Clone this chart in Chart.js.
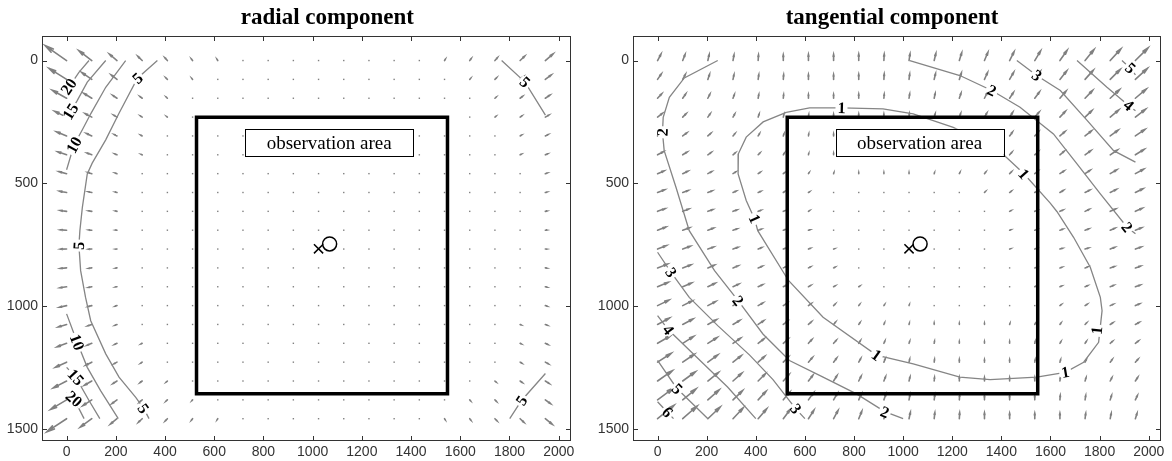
<!DOCTYPE html>
<html>
<head>
<meta charset="utf-8">
<script src="https://cdn.jsdelivr.net/npm/chart.js@4.4.1/dist/chart.umd.min.js"></script>
<style>
  html, body { margin: 0; padding: 0; background: #fff; }
  body { width: 1172px; height: 461px; position: relative; overflow: hidden; }
  canvas { position: absolute; top: 0; }
  #radial { left: 0; }
  #tangential { left: 591px; }
</style>
</head>
<body>
<canvas id="radial" width="586" height="461"></canvas>
<canvas id="tangential" width="585" height="461"></canvas>
<script>
"use strict";

// sampling grid of the field (sensor pixels)
const gridX = [0, 102.4, 204.8, 307.2, 409.6, 512, 614.4, 716.8, 819.2, 921.6, 1024, 1126.4, 1228.8, 1331.2, 1433.6, 1536, 1638.4, 1740.8, 1843.2, 1945.6];
const gridY = [0, 76.8, 153.6, 230.4, 307.2, 384, 460.8, 537.6, 614.4, 691.2, 768, 844.8, 921.6, 998.4, 1075.2, 1152, 1228.8, 1305.6, 1382.4, 1459.2];

const xTicks = [0, 200, 400, 600, 800, 1000, 1200, 1400, 1600, 1800, 2000];
const yTicks = [0, 500, 1000, 1500];

// radial displacement per node [px], one row per gridY entry
const radialU = [
  [-24.2, -14.6, -8.6, -4.9, -2.8, -1.5, -0.9, -0.5, -0.2, -0.1, 0, 0, 0.1, 0.3, 0.5, 0.9, 1.6, 2.8, 5.1, 8.9],
  [-19.8, -11.6, -6.5, -3.6, -1.9, -1.0, -0.5, -0.3, -0.1, 0, 0, 0, 0, 0.1, 0.3, 0.5, 1.1, 2.0, 3.7, 6.8],
  [-16.2, -9.2, -5.0, -2.6, -1.3, -0.6, -0.3, -0.1, 0, 0, 0, 0, 0, 0, 0.2, 0.3, 0.7, 1.4, 2.7, 5.2],
  [-13.5, -7.4, -3.9, -2.0, -0.9, -0.4, -0.2, 0, 0, 0, 0, 0, 0, 0, 0, 0.2, 0.4, 1.0, 2.0, 4.1],
  [-11.5, -6.1, -3.1, -1.5, -0.7, -0.3, 0, 0, 0, 0, 0, 0, 0, 0, 0, 0, 0.3, 0.7, 1.6, 3.2],
  [-9.9, -5.2, -2.5, -1.1, -0.5, -0.2, 0, 0, 0, 0, 0, 0, 0, 0, 0, 0, 0, 0.5, 1.2, 2.6],
  [-8.7, -4.4, -2.1, -0.9, -0.4, 0, 0, 0, 0, 0, 0, 0, 0, 0, 0, 0, 0, 0.4, 0.9, 2.2],
  [-7.9, -3.9, -1.8, -0.7, -0.3, 0, 0, 0, 0, 0, 0, 0, 0, 0, 0, 0, 0, 0.3, 0.8, 1.9],
  [-7.3, -3.6, -1.6, -0.7, -0.2, 0, 0, 0, 0, 0, 0, 0, 0, 0, 0, 0, 0, 0.3, 0.7, 1.7],
  [-7.1, -3.4, -1.5, -0.6, -0.2, 0, 0, 0, 0, 0, 0, 0, 0, 0, 0, 0, 0, 0.2, 0.7, 1.6],
  [-7.0, -3.4, -1.5, -0.6, -0.2, 0, 0, 0, 0, 0, 0, 0, 0, 0, 0, 0, 0, 0.2, 0.7, 1.6],
  [-7.2, -3.5, -1.6, -0.6, -0.2, 0, 0, 0, 0, 0, 0, 0, 0, 0, 0, 0, 0, 0.2, 0.7, 1.7],
  [-7.6, -3.7, -1.7, -0.7, -0.3, 0, 0, 0, 0, 0, 0, 0, 0, 0, 0, 0, 0, 0.3, 0.7, 1.8],
  [-8.2, -4.1, -1.9, -0.8, -0.3, 0, 0, 0, 0, 0, 0, 0, 0, 0, 0, 0, 0, 0.3, 0.9, 2.0],
  [-9.4, -4.7, -2.3, -1.0, -0.4, 0, 0, 0, 0, 0, 0, 0, 0, 0, 0, 0, 0, 0.5, 1.1, 2.4],
  [-10.7, -5.6, -2.8, -1.3, -0.6, -0.2, 0, 0, 0, 0, 0, 0, 0, 0, 0, 0, 0.2, 0.6, 1.4, 2.9],
  [-12.6, -6.8, -3.5, -1.7, -0.8, -0.4, -0.2, 0, 0, 0, 0, 0, 0, 0, 0, 0, 0.4, 0.8, 1.8, 3.6],
  [-15.0, -8.4, -4.5, -2.3, -1.2, -0.5, -0.3, 0, 0, 0, 0, 0, 0, 0, 0, 0.3, 0.6, 1.2, 2.4, 4.6],
  [-18.1, -10.5, -5.8, -3.1, -1.7, -0.8, -0.4, -0.2, -0.1, 0, 0, 0, 0, 0, 0.2, 0.4, 0.9, 1.7, 3.2, 6.0],
  [-22.2, -13.1, -7.6, -4.2, -2.4, -1.3, -0.7, -0.4, -0.2, -0.1, 0, 0, 0.1, 0.2, 0.4, 0.7, 1.3, 2.5, 4.4, 7.9],
];
const radialV = [
  [-16.9, -11.2, -7.4, -4.8, -3.1, -2.0, -1.4, -1.0, -0.7, -0.6, -0.5, -0.5, -0.6, -0.7, -1.0, -1.4, -2.1, -3.2, -4.9, -7.6],
  [-12.4, -8.0, -5.0, -3.2, -1.9, -1.2, -0.8, -0.5, -0.4, 0, 0, 0, 0, -0.4, -0.5, -0.8, -1.3, -2.0, -3.2, -5.2],
  [-9.0, -5.6, -3.4, -2.0, -1.2, -0.7, -0.4, -0.2, 0, 0, 0, 0, 0, 0, -0.2, -0.4, -0.7, -1.2, -2.1, -3.5],
  [-6.5, -3.9, -2.3, -1.3, -0.7, -0.4, -0.2, 0, 0, 0, 0, 0, 0, 0, 0, -0.2, -0.4, -0.8, -1.4, -2.4],
  [-4.7, -2.8, -1.6, -0.8, -0.4, -0.2, 0, 0, 0, 0, 0, 0, 0, 0, 0, 0, -0.2, -0.5, -0.9, -1.6],
  [-3.4, -1.9, -1.0, -0.5, -0.3, -0.1, 0, 0, 0, 0, 0, 0, 0, 0, 0, 0, 0, -0.3, -0.6, -1.1],
  [-2.3, -1.3, -0.7, -0.3, -0.2, 0, 0, 0, 0, 0, 0, 0, 0, 0, 0, 0, 0, -0.2, -0.3, -0.7],
  [-1.5, -0.8, -0.4, -0.2, -0.1, 0, 0, 0, 0, 0, 0, 0, 0, 0, 0, 0, 0, -0.1, -0.2, -0.5],
  [-0.9, -0.5, -0.3, -0.1, 0, 0, 0, 0, 0, 0, 0, 0, 0, 0, 0, 0, 0, 0, -0.1, -0.3],
  [-0.4, -0.2, -0.1, 0, 0, 0, 0, 0, 0, 0, 0, 0, 0, 0, 0, 0, 0, 0, 0, -0.1],
  [0.1, 0.1, 0, 0, 0, 0, 0, 0, 0, 0, 0, 0, 0, 0, 0, 0, 0, 0, 0, 0],
  [0.7, 0.4, 0.2, 0.1, 0, 0, 0, 0, 0, 0, 0, 0, 0, 0, 0, 0, 0, 0, 0.1, 0.2],
  [1.2, 0.7, 0.3, 0.2, 0.1, 0, 0, 0, 0, 0, 0, 0, 0, 0, 0, 0, 0, 0.1, 0.2, 0.4],
  [1.9, 1.1, 0.6, 0.3, 0.1, 0, 0, 0, 0, 0, 0, 0, 0, 0, 0, 0, 0, 0.1, 0.3, 0.6],
  [2.9, 1.6, 0.9, 0.4, 0.2, 0, 0, 0, 0, 0, 0, 0, 0, 0, 0, 0, 0, 0.2, 0.5, 0.9],
  [4.0, 2.3, 1.3, 0.7, 0.4, 0.2, 0, 0, 0, 0, 0, 0, 0, 0, 0, 0, 0.2, 0.4, 0.7, 1.4],
  [5.7, 3.4, 1.9, 1.1, 0.6, 0.3, 0.2, 0, 0, 0, 0, 0, 0, 0, 0, 0, 0.3, 0.6, 1.1, 2.0],
  [7.8, 4.8, 2.9, 1.7, 1.0, 0.5, 0.3, 0, 0, 0, 0, 0, 0, 0, 0, 0.3, 0.6, 1.0, 1.7, 3.0],
  [10.7, 6.8, 4.3, 2.6, 1.6, 0.9, 0.6, 0.4, 0.2, 0, 0, 0, 0, 0, 0.4, 0.6, 1.0, 1.7, 2.6, 4.4],
  [14.7, 9.6, 6.2, 4.0, 2.5, 1.6, 1.1, 0.7, 0.5, 0.4, 0.4, 0.4, 0.4, 0.5, 0.7, 1.1, 1.6, 2.6, 4.1, 6.4],
];

// tangential displacement per node [px]
const tangentialU = [
  [1.0, 0.7, 0.4, 0.3, 0.1, 0, 0, 0, 0, 0.1, 0.3, 0.5, 0.7, 1.0, 1.3, 1.7, 2.1, 2.6, 3.1, 3.7],
  [1.1, 0.8, 0.5, 0.3, 0.2, 0.1, 0, 0, 0, 0.1, 0.2, 0.4, 0.6, 0.9, 1.2, 1.6, 2.0, 2.4, 2.9, 3.5],
  [1.2, 0.9, 0.6, 0.4, 0.2, 0.1, 0, 0, 0, 0.1, 0.2, 0.3, 0.5, 0.8, 1.1, 1.4, 1.8, 2.2, 2.7, 3.2],
  [1.4, 1.0, 0.7, 0.5, 0.3, 0.2, 0.1, 0, 0, 0, 0.1, 0.3, 0.4, 0.7, 0.9, 1.3, 1.6, 2.0, 2.5, 3.0],
  [1.5, 1.2, 0.9, 0.6, 0.4, 0.2, 0.1, 0, 0, 0, 0.1, 0.2, 0.4, 0.6, 0.8, 1.1, 1.5, 1.9, 2.3, 2.8],
  [1.7, 1.3, 1.0, 0.7, 0.5, 0.3, 0.1, 0, 0, 0, 0, 0.1, 0.3, 0.5, 0.7, 1.0, 1.3, 1.7, 2.1, 2.6],
  [1.9, 1.5, 1.1, 0.8, 0.6, 0.4, 0.2, 0.1, 0, 0, 0, 0.1, 0.2, 0.4, 0.6, 0.9, 1.2, 1.5, 1.9, 2.4],
  [2.1, 1.6, 1.3, 0.9, 0.7, 0.4, 0.3, 0.1, 0, 0, 0, 0.1, 0.2, 0.3, 0.5, 0.8, 1.0, 1.4, 1.8, 2.2],
  [2.2, 1.8, 1.4, 1.1, 0.8, 0.5, 0.3, 0.2, 0.1, 0, 0, 0, 0.1, 0.2, 0.4, 0.7, 0.9, 1.2, 1.6, 2.0],
  [2.4, 2.0, 1.6, 1.2, 0.9, 0.6, 0.4, 0.2, 0.1, 0, 0, 0, 0.1, 0.2, 0.3, 0.6, 0.8, 1.1, 1.4, 1.8],
  [2.6, 2.2, 1.7, 1.4, 1.0, 0.7, 0.5, 0.3, 0.2, 0.1, 0, 0, 0, 0.1, 0.3, 0.5, 0.7, 1.0, 1.3, 1.7],
  [2.9, 2.4, 1.9, 1.5, 1.2, 0.8, 0.6, 0.4, 0.2, 0.1, 0, 0, 0, 0.1, 0.2, 0.4, 0.6, 0.8, 1.2, 1.5],
  [3.1, 2.6, 2.1, 1.7, 1.3, 1.0, 0.7, 0.5, 0.3, 0.1, 0, 0, 0, 0.1, 0.2, 0.3, 0.5, 0.7, 1.0, 1.4],
  [3.3, 2.8, 2.3, 1.8, 1.4, 1.1, 0.8, 0.5, 0.3, 0.2, 0.1, 0, 0, 0, 0.1, 0.2, 0.4, 0.6, 0.9, 1.2],
  [3.5, 3.0, 2.5, 2.0, 1.6, 1.2, 0.9, 0.6, 0.4, 0.2, 0.1, 0, 0, 0, 0.1, 0.2, 0.3, 0.5, 0.8, 1.1],
  [3.8, 3.2, 2.7, 2.2, 1.8, 1.4, 1.0, 0.8, 0.5, 0.3, 0.2, 0.1, 0, 0, 0, 0.1, 0.3, 0.4, 0.7, 0.9],
  [4.0, 3.4, 2.9, 2.4, 1.9, 1.5, 1.2, 0.9, 0.6, 0.4, 0.2, 0.1, 0, 0, 0, 0.1, 0.2, 0.4, 0.6, 0.8],
  [4.3, 3.7, 3.1, 2.6, 2.1, 1.7, 1.3, 1.0, 0.7, 0.5, 0.3, 0.1, 0, 0, 0, 0, 0.1, 0.3, 0.5, 0.7],
  [4.6, 3.9, 3.3, 2.8, 2.3, 1.9, 1.5, 1.1, 0.8, 0.6, 0.3, 0.2, 0.1, 0, 0, 0, 0.1, 0.2, 0.4, 0.6],
  [4.8, 4.2, 3.6, 3.0, 2.5, 2.0, 1.6, 1.3, 0.9, 0.7, 0.4, 0.2, 0.1, 0, 0, 0, 0, 0.2, 0.3, 0.5],
];
const tangentialV = [
  [-1.9, -1.8, -1.8, -1.7, -1.7, -1.7, -1.8, -1.8, -1.9, -1.9, -2.0, -2.1, -2.3, -2.4, -2.6, -2.8, -3.0, -3.2, -3.4, -3.7],
  [-1.6, -1.5, -1.5, -1.4, -1.4, -1.4, -1.4, -1.4, -1.5, -1.6, -1.6, -1.7, -1.9, -2.0, -2.1, -2.3, -2.5, -2.7, -2.9, -3.2],
  [-1.3, -1.3, -1.2, -1.1, -1.1, -1.1, -1.1, -1.1, -1.2, -1.2, -1.3, -1.4, -1.5, -1.6, -1.7, -1.9, -2.1, -2.3, -2.5, -2.7],
  [-1.1, -1.0, -1.0, -0.9, -0.9, -0.8, -0.8, -0.8, -0.9, -0.9, -1.0, -1.0, -1.1, -1.2, -1.4, -1.5, -1.7, -1.9, -2.1, -2.3],
  [-1.0, -0.9, -0.8, -0.7, -0.7, -0.6, -0.6, -0.6, -0.6, -0.6, -0.7, -0.8, -0.8, -0.9, -1.1, -1.2, -1.3, -1.5, -1.7, -1.9],
  [-0.9, -0.8, -0.7, -0.6, -0.5, -0.5, -0.4, -0.4, -0.4, -0.4, -0.5, -0.5, -0.6, -0.7, -0.8, -0.9, -1.1, -1.2, -1.4, -1.6],
  [-0.8, -0.7, -0.6, -0.5, -0.4, -0.3, -0.3, -0.3, -0.3, -0.3, -0.3, -0.3, -0.4, -0.5, -0.6, -0.7, -0.8, -1.0, -1.1, -1.3],
  [-0.8, -0.6, -0.5, -0.4, -0.3, -0.3, -0.2, -0.2, -0.1, -0.1, -0.2, -0.2, -0.2, -0.3, -0.4, -0.5, -0.6, -0.7, -0.9, -1.1],
  [-0.8, -0.7, -0.5, -0.4, -0.3, -0.2, -0.2, -0.1, -0.1, -0.1, -0.1, -0.1, -0.1, -0.2, -0.2, -0.3, -0.4, -0.6, -0.7, -0.9],
  [-0.9, -0.7, -0.6, -0.4, -0.3, -0.2, -0.1, -0.1, 0, 0, 0, 0, 0, -0.1, -0.1, -0.2, -0.3, -0.4, -0.6, -0.7],
  [-1.0, -0.8, -0.6, -0.5, -0.4, -0.3, -0.2, -0.1, -0.1, 0, 0, 0, 0, 0, -0.1, -0.2, -0.2, -0.3, -0.5, -0.6],
  [-1.1, -0.9, -0.8, -0.6, -0.5, -0.4, -0.3, -0.2, -0.1, -0.1, 0, 0, 0, -0.1, -0.1, -0.1, -0.2, -0.3, -0.4, -0.5],
  [-1.3, -1.1, -1.0, -0.8, -0.6, -0.5, -0.4, -0.3, -0.2, -0.2, -0.1, -0.1, -0.1, -0.1, -0.1, -0.2, -0.2, -0.3, -0.4, -0.5],
  [-1.6, -1.4, -1.2, -1.0, -0.8, -0.7, -0.6, -0.5, -0.4, -0.3, -0.3, -0.2, -0.2, -0.2, -0.2, -0.2, -0.3, -0.4, -0.4, -0.5],
  [-1.9, -1.6, -1.4, -1.2, -1.1, -0.9, -0.8, -0.7, -0.6, -0.5, -0.4, -0.4, -0.3, -0.3, -0.3, -0.4, -0.4, -0.5, -0.5, -0.6],
  [-2.2, -2.0, -1.7, -1.5, -1.4, -1.2, -1.1, -0.9, -0.8, -0.7, -0.6, -0.6, -0.5, -0.5, -0.5, -0.5, -0.5, -0.6, -0.6, -0.7],
  [-2.6, -2.3, -2.1, -1.9, -1.7, -1.5, -1.4, -1.2, -1.1, -1.0, -0.9, -0.8, -0.8, -0.7, -0.7, -0.7, -0.7, -0.8, -0.8, -0.9],
  [-3.0, -2.7, -2.5, -2.3, -2.1, -1.9, -1.7, -1.6, -1.4, -1.3, -1.2, -1.1, -1.1, -1.0, -1.0, -1.0, -1.0, -1.0, -1.0, -1.1],
  [-3.4, -3.2, -2.9, -2.7, -2.5, -2.3, -2.1, -1.9, -1.8, -1.7, -1.6, -1.5, -1.4, -1.3, -1.3, -1.3, -1.3, -1.3, -1.3, -1.3],
  [-3.9, -3.7, -3.4, -3.2, -2.9, -2.7, -2.5, -2.4, -2.2, -2.1, -1.9, -1.8, -1.8, -1.7, -1.6, -1.6, -1.6, -1.6, -1.6, -1.6],
];

// iso-lines of displacement magnitude [px]
const radialContours = [
  { level: 5, points: [[369, 0], [288, 72], [213, 215], [159, 323], [104, 418], [84, 462], [64, 598], [54, 693], [50, 754], [57, 856], [77, 965], [98, 1060], [159, 1195], [213, 1290], [281, 1372], [315, 1420], [335, 1459]] },
  { level: 10, points: [[240, 0], [159, 109], [98, 217], [64, 282], [30, 344], [0, 445]] },
  { level: 10, points: [[0, 1032], [43, 1148], [84, 1250], [138, 1345], [210, 1459]] },
  { level: 15, points: [[159, 0], [84, 88], [43, 163], [16, 208], [0, 240]] },
  { level: 15, points: [[0, 1250], [37, 1290], [91, 1385], [135, 1459]] },
  { level: 20, points: [[91, 0], [50, 48], [9, 109], [0, 125]] },
  { level: 20, points: [[0, 1352], [30, 1379], [71, 1459]] },
  { level: 5, points: [[1768, 0], [1863, 88], [1946, 222]] },
  { level: 5, points: [[1801, 1459], [1849, 1385], [1946, 1275]] },
];
const radialLabels = [
  [5, 288, 72], [5, 50, 754], [5, 312, 1418], [10, 30, 344], [15, 16, 208], [20, 9, 106],
  [10, 43, 1148], [15, 37, 1290], [20, 30, 1379], [5, 1863, 88], [5, 1849, 1385],
];

const tangentialContours = [
  { level: 1, points: [[524, 211], [430, 250], [361, 312], [329, 380], [328, 462], [361, 570], [395, 645], [408, 693], [533, 896], [674, 1046], [891, 1200], [1041, 1236], [1231, 1290], [1354, 1300], [1544, 1290], [1660, 1270], [1735, 1229], [1796, 1148], [1810, 1019], [1803, 965], [1762, 842], [1694, 720], [1626, 615], [1599, 581], [1490, 459], [1409, 384], [1300, 320], [1204, 272], [1041, 217], [918, 197], [749, 193], [619, 193], [524, 211]] },
  { level: 2, points: [[245, 0], [109, 71], [48, 150], [23, 231], [20, 292], [27, 367], [75, 516], [129, 693], [232, 856], [328, 978], [429, 1114], [537, 1222], [674, 1290], [810, 1358], [925, 1430], [1000, 1459]] },
  { level: 3, points: [[0, 781], [55, 863], [129, 965], [245, 1080], [375, 1200], [470, 1300], [563, 1419], [600, 1459]] },
  { level: 4, points: [[0, 1039], [44, 1097], [150, 1200], [285, 1330], [400, 1459]] },
  { level: 5, points: [[0, 1222], [78, 1335], [129, 1385], [205, 1459]] },
  { level: 6, points: [[0, 1390], [40, 1433], [65, 1459]] },
  { level: 2, points: [[1027, 0], [1231, 61], [1361, 122], [1476, 190], [1612, 299], [1708, 421], [1803, 543], [1912, 679], [1946, 706]] },
  { level: 3, points: [[1463, 0], [1544, 61], [1640, 122], [1749, 244], [1857, 367], [1946, 414]] },
  { level: 4, points: [[1708, 0], [1830, 109], [1918, 183], [1946, 205]] },
  { level: 5, points: [[1891, 0], [1925, 31], [1946, 58]] },
];
const tangentialLabels = [
  [1, 749, 193], [1, 395, 645], [1, 891, 1200], [1, 1660, 1270], [1, 1789, 1100], [1, 1491, 462],
  [2, 20, 292], [2, 328, 978], [2, 925, 1432], [2, 1361, 122], [2, 1912, 679],
  [3, 55, 863], [3, 563, 1419], [3, 1544, 61], [4, 44, 1097], [4, 1918, 183],
  [5, 80, 1338], [5, 1925, 31], [6, 40, 1433],
];

const observationArea = [528, 231, 1548, 1358];
const captionBox = [725, 278, 1409, 390];
const imageCentre = [1024, 767];
const principalPoint = [1069, 747];

const panels = {
  radial: { title: "radial component", titleX: 1060, u: radialU, v: radialV, scale: 3.6, contours: radialContours, labels: radialLabels },
  tangential: { title: "tangential component", titleX: 955, u: tangentialU, v: tangentialV, scale: 14, contours: tangentialContours, labels: tangentialLabels },
};

const arrowColor = "#808080";

// quiver arrows, drawn under everything else
const quiverPlugin = {
  id: "quiver",
  beforeDatasetsDraw(chart) {
    const p = panels[chart.canvas.id];
    const { ctx } = chart;
    const xs = chart.scales.x;
    const ys = chart.scales.y;
    ctx.save();
    ctx.strokeStyle = arrowColor;
    ctx.fillStyle = arrowColor;
    ctx.lineWidth = 1.6;
    ctx.lineCap = "round";
    gridY.forEach((gy, j) => {
      gridX.forEach((gx, i) => {
        const x0 = xs.getPixelForValue(gx);
        const y0 = ys.getPixelForValue(gy);
        const x1 = xs.getPixelForValue(gx + p.u[j][i] * p.scale);
        const y1 = ys.getPixelForValue(gy + p.v[j][i] * p.scale);
        const dx = x1 - x0;
        const dy = y1 - y0;
        if (Math.hypot(dx, dy) < 1) {
          ctx.fillRect(x0 - 0.7, y0 - 0.7, 1.4, 1.4);
          return;
        }
        ctx.beginPath();
        ctx.moveTo(x0, y0);
        ctx.lineTo(x1, y1);
        ctx.moveTo(x1 - 0.33 * (dx + 0.23 * dy), y1 - 0.33 * (dy - 0.23 * dx));
        ctx.lineTo(x1, y1);
        ctx.lineTo(x1 - 0.33 * (dx - 0.23 * dy), y1 - 0.33 * (dy + 0.23 * dx));
        ctx.stroke();
      });
    });
    ctx.restore();
  },
};

function segDist(px, py, ax, ay, bx, by) {
  const vx = bx - ax, vy = by - ay;
  const t = Math.max(0, Math.min(1, ((px - ax) * vx + (py - ay) * vy) / (vx * vx + vy * vy || 1)));
  return Math.hypot(px - ax - t * vx, py - ay - t * vy);
}

// inline contour labels, caption box, frame, ticks and title
const decorPlugin = {
  id: "decor",
  afterDatasetsDraw(chart) {
    const p = panels[chart.canvas.id];
    const { ctx } = chart;
    const xs = chart.scales.x;
    const ys = chart.scales.y;
    ctx.save();
    ctx.font = "bold 16px 'Liberation Serif'";
    ctx.textAlign = "center";
    ctx.textBaseline = "middle";
    p.labels.forEach(([level, lx, ly]) => {
      const px = xs.getPixelForValue(lx);
      const py = ys.getPixelForValue(ly);
      let best = Infinity;
      let angle = 0;
      p.contours.filter((c) => c.level === level).forEach((c) => {
        for (let k = 1; k < c.points.length; k++) {
          const ax = xs.getPixelForValue(c.points[k - 1][0]);
          const ay = ys.getPixelForValue(c.points[k - 1][1]);
          const bx = xs.getPixelForValue(c.points[k][0]);
          const by = ys.getPixelForValue(c.points[k][1]);
          const d = segDist(px, py, ax, ay, bx, by);
          if (d < best) {
            best = d;
            angle = Math.atan2(by - ay, bx - ax);
          }
        }
      });
      if (angle > Math.PI / 2) angle -= Math.PI;
      if (angle < -Math.PI / 2) angle += Math.PI;
      const text = String(level);
      const w = ctx.measureText(text).width;
      ctx.save();
      ctx.translate(px, py);
      ctx.rotate(angle);
      ctx.fillStyle = "#fff";
      ctx.fillRect(-w / 2 - 2, -4, w + 4, 8);
      ctx.fillStyle = "#000";
      ctx.fillText(text, 0, 1);
      ctx.restore();
    });

    // caption of the observed region
    const bx0 = xs.getPixelForValue(captionBox[0]);
    const by0 = ys.getPixelForValue(captionBox[1]);
    const bx1 = xs.getPixelForValue(captionBox[2]);
    const by1 = ys.getPixelForValue(captionBox[3]);
    ctx.fillStyle = "#fff";
    ctx.fillRect(bx0, by0, bx1 - bx0, by1 - by0);
    ctx.strokeStyle = "#000";
    ctx.lineWidth = 1;
    ctx.strokeRect(Math.round(bx0) + 0.5, Math.round(by0) + 0.5, Math.round(bx1 - bx0), Math.round(by1 - by0));
    ctx.fillStyle = "#000";
    ctx.font = "19px 'Liberation Serif'";
    ctx.fillText("observation area", (bx0 + bx1) / 2, (by0 + by1) / 2 + 1);
    ctx.restore();
  },
  afterDraw(chart) {
    const p = panels[chart.canvas.id];
    const { ctx, chartArea: a } = chart;
    const xs = chart.scales.x;
    const ys = chart.scales.y;
    ctx.save();
    ctx.strokeStyle = "#333";
    ctx.lineWidth = 1;
    ctx.strokeRect(Math.round(a.left) + 0.5, Math.round(a.top) + 0.5, Math.round(a.width) - 1, Math.round(a.height) - 1);
    ctx.beginPath();
    xTicks.forEach((v) => {
      const x = Math.round(xs.getPixelForValue(v)) + 0.5;
      ctx.moveTo(x, a.bottom);
      ctx.lineTo(x, a.bottom - 5);
      ctx.moveTo(x, a.top);
      ctx.lineTo(x, a.top + 5);
    });
    yTicks.forEach((v) => {
      const y = Math.round(ys.getPixelForValue(v)) + 0.5;
      ctx.moveTo(a.left, y);
      ctx.lineTo(a.left + 5, y);
      ctx.moveTo(a.right, y);
      ctx.lineTo(a.right - 5, y);
    });
    ctx.stroke();

    ctx.fillStyle = "#000";
    ctx.font = "bold 23px 'Liberation Serif'";
    ctx.textAlign = "center";
    ctx.textBaseline = "alphabetic";
    ctx.fillText(p.title, xs.getPixelForValue(p.titleX), 24);
    ctx.restore();
  },
};

const toPoints = (pts) => pts.map(([x, y]) => ({ x, y }));

function buildPanel(id) {
  const p = panels[id];
  const [ax0, ay0, ax1, ay1] = observationArea;
  const tickFont = { family: "'Liberation Sans'", size: 14 };
  new Chart(document.getElementById(id), {
    type: "scatter",
    data: {
      datasets: [
        {
          data: toPoints([imageCentre]),
          pointStyle: "crossRot",
          pointRadius: 6.5,
          borderColor: "#000",
          borderWidth: 1.5,
        },
        {
          data: toPoints([principalPoint]),
          pointStyle: "circle",
          pointRadius: 7,
          borderColor: "#000",
          backgroundColor: "rgba(0,0,0,0)",
          borderWidth: 1.5,
        },
        {
          data: toPoints([[ax0, ay0], [ax1, ay0], [ax1, ay1], [ax0, ay1], [ax0, ay0], [ax1, ay0]]),
          showLine: true,
          borderColor: "#000",
          borderWidth: 3.5,
          pointRadius: 0,
        },
        ...p.contours.map((c) => ({
          data: toPoints(c.points),
          showLine: true,
          borderColor: "#858585",
          borderWidth: 1.3,
          pointRadius: 0,
        })),
      ],
    },
    options: {
      responsive: false,
      animation: false,
      events: [],
      layout: { padding: { top: 36, right: 15, left: 0, bottom: 0 } },
      plugins: { legend: { display: false }, tooltip: { enabled: false } },
      scales: {
        x: {
          type: "linear",
          min: -100,
          max: 2050,
          afterBuildTicks: (s) => { s.ticks = xTicks.map((value) => ({ value })); },
          afterFit: (s) => { s.height = 20; },
          grid: { display: false, drawTicks: false },
          border: { display: false },
          ticks: { padding: 3, font: tickFont, color: "#333", maxRotation: 0, autoSkip: false, callback: (v) => String(v) },
        },
        y: {
          type: "linear",
          reverse: true,
          min: -100,
          max: 1550,
          afterBuildTicks: (s) => { s.ticks = yTicks.map((value) => ({ value })); },
          afterFit: (s) => { s.width = 42; },
          grid: { display: false, drawTicks: false },
          border: { display: false },
          ticks: { padding: 4, font: tickFont, color: "#333", autoSkip: false, callback: (v) => String(v) },
        },
      },
    },
    plugins: [quiverPlugin, decorPlugin],
  });
}

buildPanel("radial");
buildPanel("tangential");
</script>
</body>
</html>
